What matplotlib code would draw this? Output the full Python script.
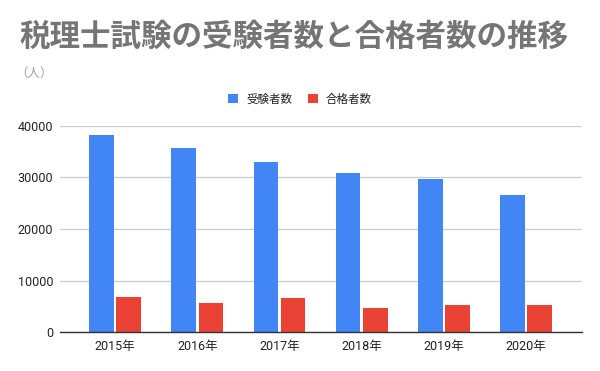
import numpy as np
import matplotlib
matplotlib.use('Agg')
import matplotlib.pyplot as plt

plt.rcParams['font.family'] = ['Roboto', 'Noto Sans CJK JP', 'DejaVu Sans']

years = ['2015年', '2016年', '2017年', '2018年', '2019年', '2020年']
examinees = [38175, 35749, 32974, 30850, 29779, 26673]
passers = [6800, 5700, 6600, 4700, 5300, 5300]
series_names = ['受験者数', '合格者数']
colors = ['#4285f4', '#ea4335']

fig = plt.figure(figsize=(6, 3.71), dpi=100, facecolor='white')
ax = fig.add_axes([60/600, 1 - 332/371, 522/600, 206/371])

x = np.arange(len(years))
w = 0.30
off = 0.165
ax.bar(x - off, examinees, w, color=colors[0], label=series_names[0], zorder=3)
ax.bar(x + off, passers, w, color=colors[1], label=series_names[1], zorder=3)

ax.set_xlim(-0.67, 5.68)
ax.set_ylim(0, 40000)
ax.set_yticks([0, 10000, 20000, 30000, 40000])
ax.set_yticklabels(['0', '10000', '20000', '30000', '40000'])
ax.set_xticks(x)
ax.set_xticklabels(years)
ax.tick_params(axis='both', length=0, labelsize=9, colors='#222222', pad=6)
ax.tick_params(axis='y', pad=5)
ax.grid(axis='y', color='#cccccc', linewidth=0.9, zorder=0)
for s in ['top', 'right', 'left']:
    ax.spines[s].set_visible(False)
ax.spines['bottom'].set_color('#333333')
ax.spines['bottom'].set_linewidth(1.0)
ax.spines['bottom'].set_zorder(4)

fig.text(19/600, 1 - 37/371, '税理士試験の受験者数と合格者数の推移', fontsize=22,
         fontweight='bold', color='#757575', va='center', ha='left',
         family=['Noto Sans CJK JP'])
fig.text(15/600, 1 - 73/371, '（人）', fontsize=9, color='#9e9e9e', va='center', ha='left',
         family=['Noto Sans CJK JP'])

leg = fig.legend(loc='center', bbox_to_anchor=(0.5, 1 - 99/371), ncol=2, frameon=False,
                 fontsize=8.3, handlelength=0.85, handleheight=0.85, handletextpad=0.7,
                 columnspacing=1.4)
for t in leg.get_texts():
    t.set_color('#222222')

fig.savefig('out.png', dpi=100, facecolor='white')
